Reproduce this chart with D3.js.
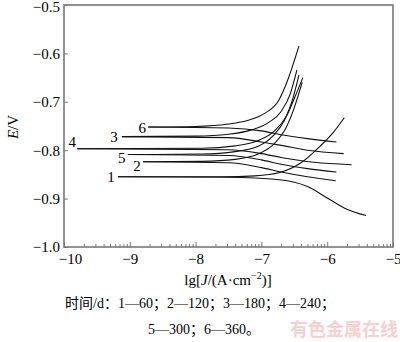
<!DOCTYPE html>
<html>
<head>
<meta charset="utf-8">
<script src="https://cdn.jsdelivr.net/npm/d3@7"></script>
<style>
body { margin: 0; background: #fff; }
text { font-family: "Liberation Serif", "Times New Roman", serif; }
</style>
</head>
<body>
<svg id="chart" width="400" height="342"></svg>
<script>
// curve names (time in days)
var curveNames = ["1", "2", "3", "4", "5", "6"];

// anodic branches [lg J, E]
var anodic1 = [[-9.18, -0.855], [-7.6, -0.855], [-7.1, -0.853], [-6.72, -0.846], [-6.41, -0.827], [-6.11, -0.792], [-5.9, -0.762], [-5.74, -0.733]];
var anodic2 = [[-8.80, -0.824], [-7.9, -0.823], [-7.4, -0.819], [-7.05, -0.808], [-6.8, -0.786], [-6.62, -0.752], [-6.5, -0.712], [-6.38, -0.66]];
var anodic3 = [[-9.12, -0.772], [-8.0, -0.771], [-7.5, -0.767], [-7.15, -0.758], [-6.88, -0.742], [-6.7, -0.72], [-6.56, -0.683], [-6.46, -0.634]];
var anodic4 = [[-9.80, -0.797], [-7.9, -0.796], [-7.4, -0.791], [-7.05, -0.78], [-6.8, -0.76], [-6.62, -0.73], [-6.5, -0.693], [-6.37, -0.65]];
var anodic5 = [[-9.03, -0.809], [-7.9, -0.808], [-7.4, -0.803], [-7.05, -0.792], [-6.82, -0.77], [-6.65, -0.738], [-6.53, -0.697], [-6.43, -0.645]];
var anodic6 = [[-8.72, -0.752], [-8.0, -0.751], [-7.5, -0.746], [-7.2, -0.738], [-6.95, -0.724], [-6.74, -0.698], [-6.6, -0.655], [-6.43, -0.585]];

// cathodic branches [lg J, E]
var cathodic1 = [[-9.18, -0.855], [-7.5, -0.856], [-6.72, -0.861], [-6.3, -0.875], [-5.96, -0.902], [-5.7, -0.922], [-5.41, -0.935]];
var cathodic2 = [[-8.80, -0.824], [-7.5, -0.826], [-7.0, -0.836], [-6.7, -0.845], [-6.3, -0.855], [-5.87, -0.863]];
var cathodic3 = [[-9.12, -0.772], [-7.5, -0.774], [-7.0, -0.783], [-6.7, -0.79], [-6.3, -0.8], [-5.75, -0.807]];
var cathodic4 = [[-9.80, -0.797], [-7.5, -0.799], [-7.0, -0.807], [-6.7, -0.815], [-6.2, -0.825], [-5.63, -0.83]];
var cathodic5 = [[-9.03, -0.809], [-7.5, -0.811], [-7.0, -0.82], [-6.7, -0.829], [-6.3, -0.838], [-5.86, -0.845]];
var cathodic6 = [[-8.72, -0.752], [-7.5, -0.754], [-7.0, -0.76], [-6.7, -0.768], [-6.3, -0.776], [-5.86, -0.783]];

var anodicList = [anodic1, anodic2, anodic3, anodic4, anodic5, anodic6];
var cathodicList = [cathodic1, cathodic2, cathodic3, cathodic4, cathodic5, cathodic6];

// axis ticks
var xMajor = [-10, -9, -8, -7, -6, -5];
var yMajor = [-1.0, -0.9, -0.8, -0.7, -0.6, -0.5];

// caption
var captionLines = ["时间/d：1—60；2—120；3—180；4—240；", "5—300；6—360。"];
var watermark = "有色金属在线";

// label offsets from the start of each curve (px)
var labelOffset = [[-7, 0], [-6, 4], [-8, 0], [-5, -7], [-6, 3], [-6, 1]];

var svg = d3.select("#chart");
var axisColor = "#777";

var x = d3.scaleLinear().domain([-10, -5]).range([64, 393]);
var y = d3.scaleLinear().domain([-1.0, -0.5]).range([247, 5]);

// minor ticks (log positions inside each decade)
var xMinor = [];
xMajor.slice(0, -1).forEach(function(d) {
	for (var k = 2; k <= 9; k++) xMinor.push(d + Math.log10(k));
});

// minor x ticks
svg.append("g")
	.attr("transform", "translate(0,247)")
	.call(d3.axisBottom(x).tickValues(xMinor).tickSize(-3).tickFormat(""))
	.call(function(g) {
		g.select(".domain").remove();
		g.selectAll("line").attr("stroke", axisColor);
	});

// major x ticks
var gx = svg.append("g")
	.attr("transform", "translate(0,247)")
	.call(d3.axisBottom(x).tickValues(xMajor).tickSize(-5).tickPadding(6).tickFormat(d3.format("d")))
	.call(function(g) {
		g.select(".domain").remove();
		g.selectAll("line").attr("stroke", axisColor);
		g.selectAll("text").attr("font-size", 15).attr("fill", "#000")
			.style("font-family", "'Liberation Serif', serif");
	});
gx.selectAll("text").filter(function(d) { return d === -10; }).attr("dx", 6);

// y ticks
var gy = svg.append("g")
	.attr("transform", "translate(64,0)")
	.call(d3.axisLeft(y).tickValues(yMajor).tickSize(-4).tickPadding(4).tickFormat(d3.format(".1f")))
	.call(function(g) {
		g.select(".domain").remove();
		g.selectAll("line").attr("stroke", axisColor);
		g.selectAll("text").attr("font-size", 15).attr("fill", "#000")
			.style("font-family", "'Liberation Serif', serif");
	});
// keep the top label inside the picture
gy.selectAll("text").filter(function(d) { return d === -0.5; }).attr("dy", "0.42em");

// frame
svg.append("rect")
	.attr("x", x(-10)).attr("y", y(-0.5))
	.attr("width", x(-5) - x(-10)).attr("height", y(-1.0) - y(-0.5))
	.attr("fill", "none").attr("stroke", axisColor).attr("stroke-width", 1.6);

// curves
var line = d3.line()
	.x(function(d) { return x(d[0]); })
	.y(function(d) { return y(d[1]); })
	.curve(d3.curveMonotoneX);

svg.append("g").selectAll("path.an")
	.data(anodicList).enter().append("path")
	.attr("d", line)
	.attr("fill", "none").attr("stroke", "#111").attr("stroke-width", 1.1);

svg.append("g").selectAll("path.ca")
	.data(cathodicList).enter().append("path")
	.attr("d", line)
	.attr("fill", "none").attr("stroke", "#111").attr("stroke-width", 1.1);

// curve labels
svg.append("g").selectAll("text")
	.data(curveNames).enter().append("text")
	.attr("x", function(d, i) { return x(anodicList[i][0][0]) + labelOffset[i][0]; })
	.attr("y", function(d, i) { return y(anodicList[i][0][1]) + labelOffset[i][1]; })
	.attr("dy", "0.35em")
	.attr("text-anchor", "middle")
	.attr("font-size", 15)
	.text(function(d) { return d; });

// y title
var yt = svg.append("text")
	.attr("transform", "translate(18,127) rotate(-90)")
	.attr("text-anchor", "middle")
	.attr("font-size", 15);
yt.append("tspan").attr("font-style", "italic").text("E");
yt.append("tspan").text("/V");

// x title
var xt = svg.append("text")
	.attr("x", 228).attr("y", 285)
	.attr("text-anchor", "middle")
	.attr("font-size", 15);
xt.append("tspan").text("lg[");
xt.append("tspan").attr("font-style", "italic").text("J");
xt.append("tspan").text("/(A·cm");
xt.append("tspan").attr("font-size", 10).attr("dy", -6).text("−2");
xt.append("tspan").attr("dy", 6).text(")]");

// caption
svg.append("g").selectAll("text")
	.data(captionLines).enter().append("text")
	.attr("x", function(d, i) { return i === 0 ? 65 : 148; })
	.attr("y", function(d, i) { return 308 + i * 26; })
	.attr("font-size", 14)
	.style("font-family", "'Liberation Serif', 'Noto Sans CJK SC', serif")
	.text(function(d) { return d; });

// watermark
svg.append("text")
	.attr("x", 398).attr("y", 336)
	.attr("text-anchor", "end")
	.attr("font-size", 18)
	.attr("font-weight", "bold")
	.attr("fill", "#f7cfcf")
	.style("font-family", "'Noto Sans CJK SC', sans-serif")
	.text(watermark);
</script>
</body>
</html>
